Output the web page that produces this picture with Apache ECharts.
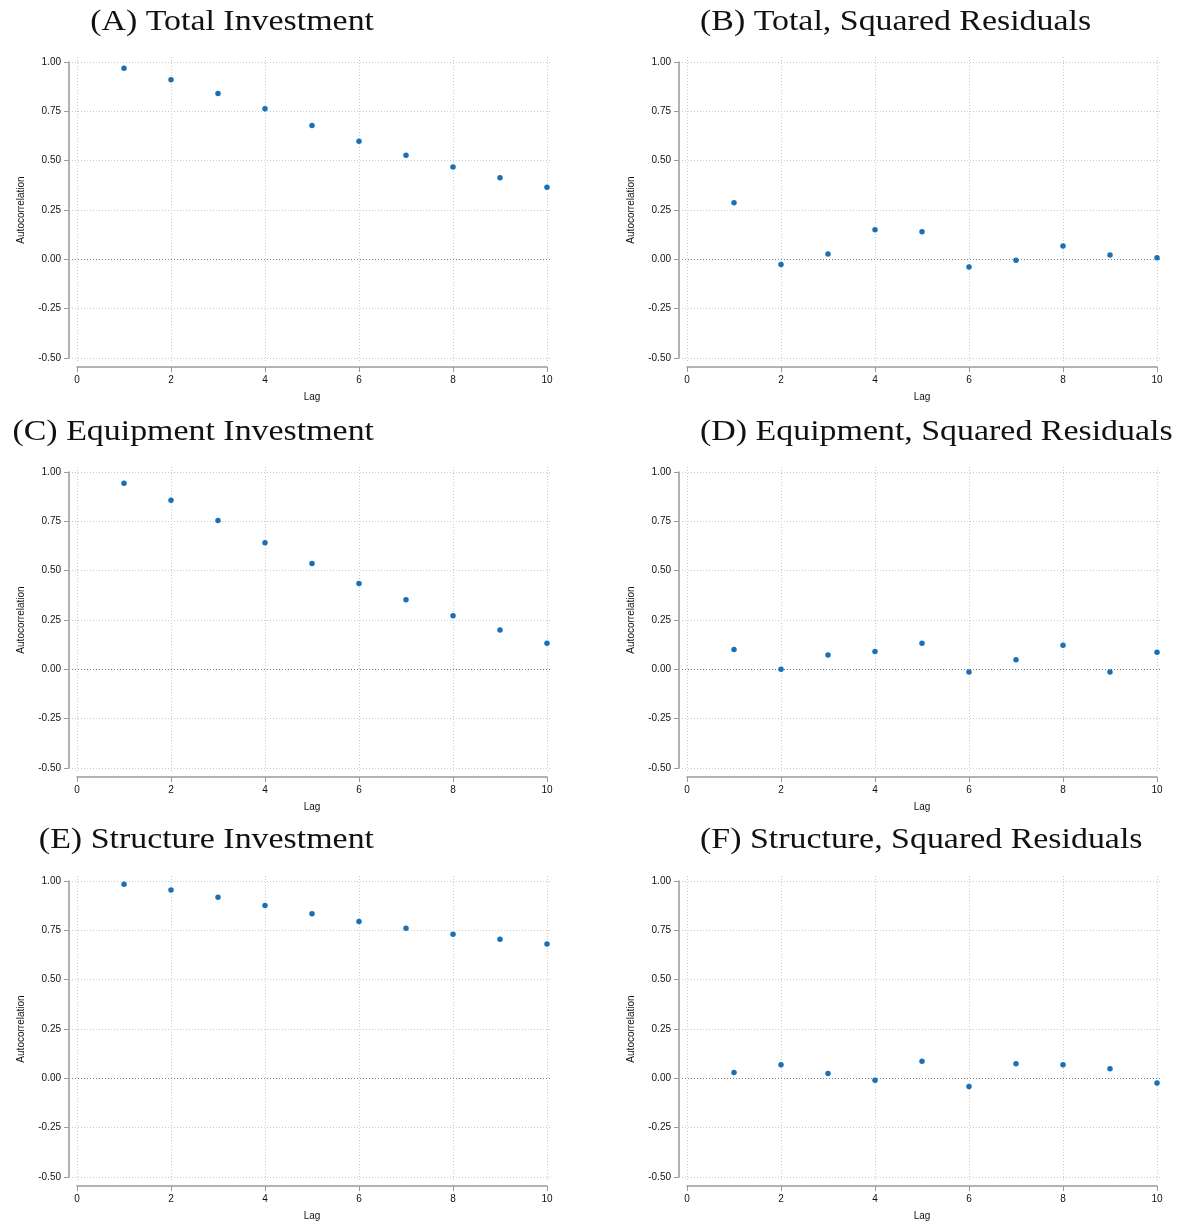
<!DOCTYPE html>
<html>
<head>
<meta charset="utf-8">
<script src="https://cdn.jsdelivr.net/npm/echarts@6/dist/echarts.min.js"></script>
<style>
html,body{margin:0;padding:0;background:#fff;}
#chart{width:1182px;height:1222px;}
</style>
</head>
<body>
<div id="chart"></div>
<script>
const lags = [1, 2, 3, 4, 5, 6, 7, 8, 9, 10];
const yTicks = [-0.5, -0.25, 0, 0.25, 0.5, 0.75, 1.0];
const xTicks = [0, 2, 4, 6, 8, 10];

const panelTitles = [
  '(A) Total Investment',
  '(B) Total, Squared Residuals',
  '(C) Equipment Investment',
  '(D) Equipment, Squared Residuals',
  '(E) Structure Investment',
  '(F) Structure, Squared Residuals'
];

const totalInvestment = [0.968, 0.910, 0.841, 0.763, 0.678, 0.598, 0.527, 0.468, 0.414, 0.365];
const totalSqResid = [0.287, -0.026, 0.027, 0.150, 0.140, -0.039, -0.005, 0.067, 0.022, 0.008];
const equipmentInvestment = [0.943, 0.857, 0.754, 0.642, 0.536, 0.435, 0.352, 0.271, 0.199, 0.132];
const equipmentSqResid = [0.100, 0.000, 0.073, 0.090, 0.132, -0.014, 0.049, 0.122, -0.014, 0.086];
const structureInvestment = [0.983, 0.955, 0.918, 0.876, 0.834, 0.795, 0.760, 0.730, 0.705, 0.681];
const structureSqResid = [0.029, 0.069, 0.024, -0.010, 0.086, -0.041, 0.074, 0.069, 0.049, -0.024];

const panelData = [totalInvestment, totalSqResid, equipmentInvestment, equipmentSqResid, structureInvestment, structureSqResid];

const colLeft = [77, 687];
const rowTop = [62, 472, 881];
const plotW = 470, plotH = 296;
const pad = 5; // grid lines run a little past the outer ticks
const titleY = [22, 432, 840];
const titleX = [374, 700];

const labelFont = 'Liberation Sans, Arial, Helvetica, sans-serif';
const titleFont = 'Liberation Serif, serif';

const gridColor = '#c8c8c8';
const zeroColor = '#808080';

const grids = [], xAxes = [], yAxes = [], series = [], graphics = [];

const xMin = xTicks[0], xMax = xTicks[xTicks.length - 1];
const yMin = yTicks[0], yMax = yTicks[yTicks.length - 1];
const xPad = (xMax - xMin) / plotW * pad;
const yPad = (yMax - yMin) / plotH * pad;

for (let i = 0; i < 6; i++) {
  const r = Math.floor(i / 2), c = i % 2;
  grids.push({left: colLeft[c], top: rowTop[r], width: plotW, height: plotH, containLabel: false});
  xAxes.push({
    gridIndex: i, type: 'value', min: xMin, max: xMax, interval: 2,
    offset: 9,
    name: 'Lag', nameLocation: 'middle', nameGap: 25,
    nameTextStyle: {fontFamily: labelFont, fontSize: 10, color: '#111'},
    axisLine: {show: true, onZero: false, lineStyle: {color: '#9a9a9a', width: 1.5}},
    axisTick: {show: true, length: 5, lineStyle: {color: '#9a9a9a', width: 1}},
    axisLabel: {fontFamily: labelFont, fontSize: 10, color: '#111', margin: 8},
    splitLine: {show: false}
  });
  yAxes.push({
    gridIndex: i, type: 'value', min: yMin, max: yMax, interval: 0.25,
    offset: 8,
    name: 'Autocorrelation', nameLocation: 'middle', nameGap: 43, nameRotate: 90,
    nameTextStyle: {fontFamily: labelFont, fontSize: 10, color: '#111'},
    axisLine: {show: true, onZero: false, lineStyle: {color: '#9a9a9a', width: 1.5}},
    axisTick: {show: true, length: 5, lineStyle: {color: '#9a9a9a', width: 1}},
    axisLabel: {fontFamily: labelFont, fontSize: 10, color: '#111', margin: 8,
      formatter: v => v.toFixed(2)},
    splitLine: {show: false}
  });
  series.push({
    type: 'scatter', xAxisIndex: i, yAxisIndex: i,
    data: lags.map((l, k) => [l, panelData[i][k]]),
    symbol: 'circle', symbolSize: 5.5,
    itemStyle: {color: '#1c6fb3', opacity: 1},
    silent: true, z: 5
  });
  graphics.push({
    type: 'text', x: titleX[c], y: titleY[r], scaleX: 1.13, silent: true,
    style: {
      text: panelTitles[i], fontFamily: titleFont, fontSize: 30, fill: '#111',
      textAlign: c === 0 ? 'right' : 'left', textVerticalAlign: 'middle'
    }
  });
}

// background grids: dotted grid lines only, slightly wider than the axes
for (let i = 0; i < 6; i++) {
  const r = Math.floor(i / 2), c = i % 2;
  const g = grids.length;
  grids.push({left: colLeft[c] - pad, top: rowTop[r] - pad, width: plotW + 2 * pad, height: plotH + 2 * pad, containLabel: false, z: 0});
  xAxes.push({
    gridIndex: g, type: 'value', min: xMin - xPad, max: xMax + xPad,
    axisLine: {show: false}, axisLabel: {show: false},
    axisTick: {show: false, customValues: xTicks},
    splitLine: {show: true, showMinLine: true, showMaxLine: true, lineStyle: {color: gridColor, type: [1, 2], width: 1}},
    z: 0
  });
  yAxes.push({
    gridIndex: g, type: 'value', min: yMin - yPad, max: yMax + yPad,
    axisLine: {show: false}, axisLabel: {show: false},
    axisTick: {show: false, customValues: yTicks},
    splitLine: {show: true, showMinLine: true, showMaxLine: true,
      lineStyle: {color: yTicks.map(v => v === 0 ? zeroColor : gridColor), type: [1, 2], width: 1}},
    z: 0
  });
}

const chart = echarts.init(document.getElementById('chart'), null, {renderer: 'canvas'});
chart.setOption({
  animation: false,
  backgroundColor: '#fff',
  graphic: graphics,
  grid: grids,
  xAxis: xAxes,
  yAxis: yAxes,
  series: series
});
</script>
</body>
</html>
